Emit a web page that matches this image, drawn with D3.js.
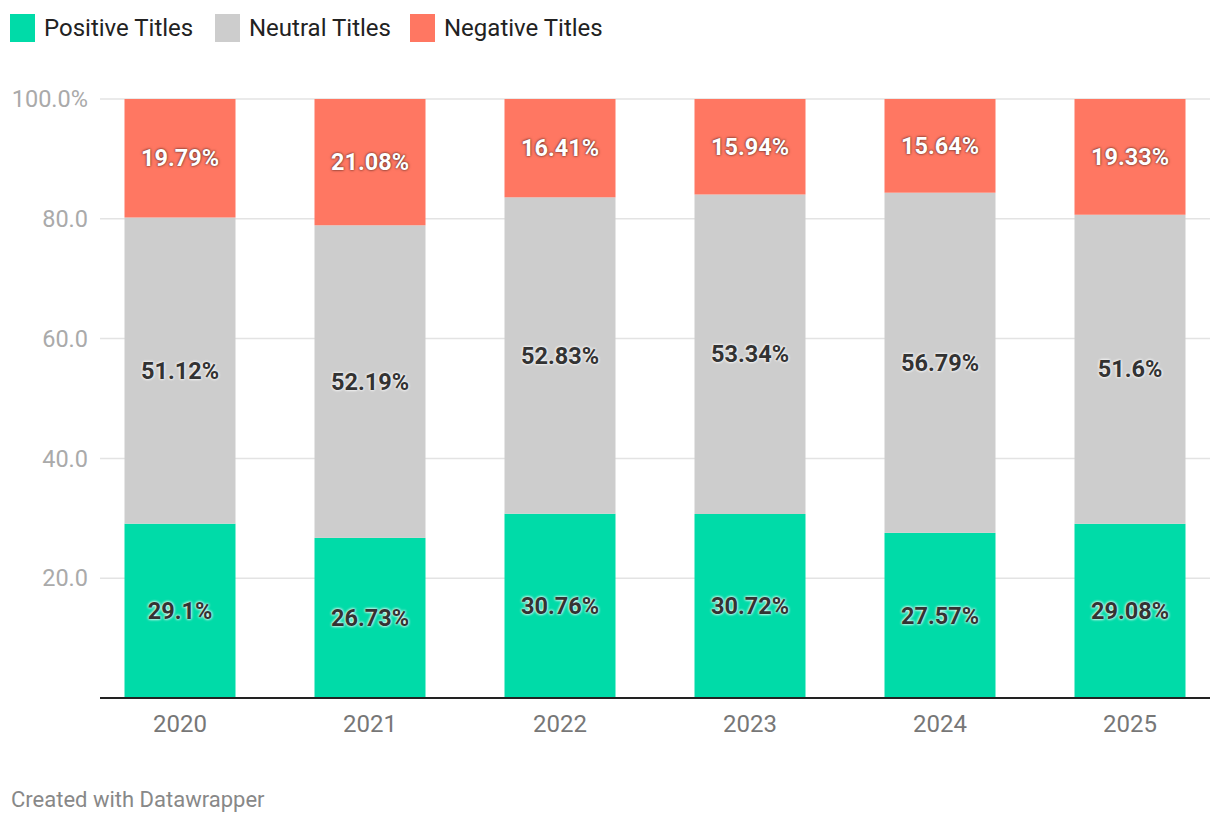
<!DOCTYPE html>
<html>
<head>
<meta charset="utf-8">
<script src="https://cdn.jsdelivr.net/npm/d3@7"></script>
<style>
  body { margin: 0; background: #fff; font-family: Roboto, "Noto Sans", sans-serif; }
  svg text { font-family: Roboto, sans-serif; }
  .lbl-dark { text-shadow: 0 0 3px #fff, 0 0 3px #fff; }
  .lbl-light { text-shadow: 0 0 3px rgba(0,0,0,0.55), 0 0 2px rgba(0,0,0,0.4); }
</style>
</head>
<body>
<div id="chart"></div>
<script>
"use strict";

// data
let years = ["2020", "2021", "2022", "2023", "2024", "2025"];
let positive = [29.1, 26.73, 30.76, 30.72, 27.57, 29.08];
let neutral = [51.12, 52.19, 52.83, 53.34, 56.79, 51.6];
let negative = [19.79, 21.08, 16.41, 15.94, 15.64, 19.33];
let yTicks = [20, 40, 60, 80, 100];

let seriesNames = ["Positive Titles", "Neutral Titles", "Negative Titles"];
let seriesColors = ["#00dba8", "#cdcdcd", "#ff7762"];
let labelClass = ["lbl-dark", "lbl-dark", "lbl-light"];
let labelColor = ["#333333", "#333333", "#ffffff"];

let width = 1220, height = 822;

let svg = d3.select("#chart").append("svg")
  .attr("width", width)
  .attr("height", height);

// legend
let legendX = [10, 215, 410];
let legend = svg.append("g");
seriesNames.forEach(function(name, i) {
  let g = legend.append("g").attr("transform", "translate(" + legendX[i] + ", 14)");
  g.append("rect")
    .attr("width", 25)
    .attr("height", 28)
    .attr("fill", seriesColors[i]);
  g.append("text")
    .attr("x", 34)
    .attr("y", 14)
    .attr("dy", "0.35em")
    .style("font-size", "24px")
    .style("fill", "#222")
    .text(name);
});

let y = d3.scaleLinear()
  .domain([0, 100])
  .range([698, 99]);

let x = d3.scaleBand()
  .domain(years)
  .range([85, 1225])
  .paddingInner(79 / 190)
  .paddingOuter(79 / 380);

// gridlines + tick labels
let grid = svg.append("g");
grid.selectAll("line")
  .data(yTicks)
  .enter().append("line")
  .attr("x1", 100)
  .attr("x2", 1210)
  .attr("y1", d => y(d))
  .attr("y2", d => y(d))
  .style("stroke", "#e3e3e3")
  .style("stroke-width", 1.5);

grid.selectAll("text")
  .data(yTicks)
  .enter().append("text")
  .attr("x", 88)
  .attr("y", d => y(d))
  .attr("dy", "0.35em")
  .attr("text-anchor", "end")
  .style("font-size", "23.5px")
  .style("fill", "#aaaaaa")
  .text(d => d === 100 ? "100.0%" : d.toFixed(1));

// stacked data
let rows = years.map((yr, i) => ({ year: yr, s0: positive[i], s1: neutral[i], s2: negative[i] }));
let stack = d3.stack().keys(["s0", "s1", "s2"]);
let layers = stack(rows);

let barG = svg.append("g");
layers.forEach(function(layer, li) {
  barG.append("g").selectAll("rect")
    .data(layer)
    .enter().append("rect")
    .attr("x", d => x(d.data.year))
    .attr("width", x.bandwidth())
    .attr("y", d => y(Math.min(d[1], 100)))
    .attr("height", d => y(d[0]) - y(Math.min(d[1], 100)))
    .attr("fill", seriesColors[li]);
});

// value labels
let labelG = svg.append("g");
layers.forEach(function(layer, li) {
  labelG.append("g").selectAll("text")
    .data(layer)
    .enter().append("text")
    .attr("class", labelClass[li])
    .attr("x", d => x(d.data.year) + x.bandwidth() / 2)
    .attr("y", d => y((d[0] + Math.min(d[1], 100)) / 2))
    .attr("dy", "0.35em")
    .attr("text-anchor", "middle")
    .style("font-size", "23.5px")
    .style("font-weight", "bold")
    .style("fill", labelColor[li])
    .text(d => d.data[layer.key] + "%");
});

// baseline
svg.append("line")
  .attr("x1", 100)
  .attr("x2", 1210)
  .attr("y1", y(0))
  .attr("y2", y(0))
  .style("stroke", "#222")
  .style("stroke-width", 2);

// x axis labels
svg.append("g").selectAll("text")
  .data(years)
  .enter().append("text")
  .attr("x", d => x(d) + x.bandwidth() / 2)
  .attr("y", 724)
  .attr("dy", "0.35em")
  .attr("text-anchor", "middle")
  .style("font-size", "24px")
  .style("fill", "#777")
  .text(d => d);

// footer
svg.append("text")
  .attr("x", 11)
  .attr("y", 799)
  .attr("dy", "0.35em")
  .style("font-size", "22px")
  .style("fill", "#888")
  .text("Created with Datawrapper");
</script>
</body>
</html>
